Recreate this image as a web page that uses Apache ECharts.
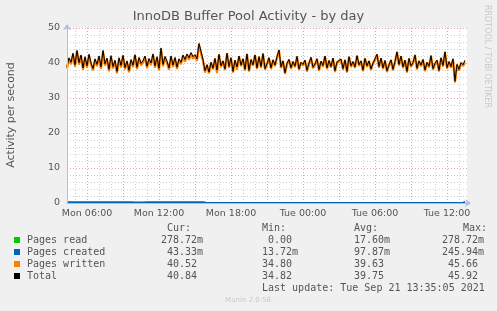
<!DOCTYPE html>
<html><head><meta charset="utf-8">
<script src="https://cdn.jsdelivr.net/npm/echarts@6/dist/echarts.min.js"></script>
<style>html,body{margin:0;padding:0;background:#f0f0f0;}#c{width:497px;height:311px;}</style>
</head><body><div id="c"></div>
<script>
// ---- data (10-minute samples starting Mon 04:20) ----
const startMinutes = 4 * 60 + 20;
const stepMinutes = 10;
const totalValues = [
39.0,41.5,40.2,42.8,39.5,43.6,40.1,42.3,38.6,41.8,39.2,42.5,40.0,38.4,41.2,39.6,42.0,38.9,43.6,39.8,
41.4,38.2,42.1,39.0,40.8,37.6,41.5,39.3,42.2,38.7,40.6,37.9,41.0,39.4,42.4,38.8,41.6,39.9,40.6,42.0,
39.1,41.3,40.0,42.6,39.2,41.8,38.5,44.3,39.6,41.9,
40.5,38.6,42.0,39.4,41.6,38.8,41.2,40.2,42.3,41.0,42.6,41.5,43.0,41.8,42.4,41.2,45.6,45.9,
41.0,37.8,39.5,37.4,40.2,38.5,41.3,38.0,42.5,39.2,40.6,38.3,42.8,39.0,41.5,37.6,40.8,38.9,42.0,39.4,
41.2,38.2,42.6,37.9,41.0,39.5,42.3,38.6,41.8,39.0,42.7,38.4,
39.8,41.5,38.6,40.9,39.4,41.8,43.7,38.9,40.6,37.2,39.9,41.0,38.7,40.4,39.1,41.9,38.3,40.2,39.6,40.8,
37.9,40.0,41.6,38.8,39.7,41.2,38.1,40.5,39.3,42.0,38.6,40.7,39.0,41.4,37.8,40.3,39.8,41.1,38.4,40.9,
37.6,41.8,39.2,40.4,38.9,42.1,39.5,40.6,38.0,41.3,
39.2,40.6,38.3,40.0,41.2,42.5,39.0,41.4,38.6,40.7,37.8,39.5,40.9,38.2,40.4,43.2,39.6,42.0,38.9,40.8,
37.6,41.3,39.2,40.1,42.3,38.5,40.6,39.4,41.0,38.0,40.2,39.1,42.1,38.4,39.9,40.8,37.9,41.5,39.3,43.2,
38.7,40.4,39.0,41.2,34.8,39.6,38.2,40.1,39.5,40.8
];
// pages created, one value per hour starting Mon 04:00
const createdHourly = [0.22,0.24,0.21,0.23,0.25,0.22,0.20,0.24,0.23,0.21,0.25,0.22,
0.02,0.02,0.02,0.01,0.02,0.02,0.01,0.02,0.02,0.02,0.02,0.01,0.02,0.02,0.02,0.02,0.02,0.02,0.02,0.02,0.04,0.04];
// pages read: non-zero samples only [sampleIndex, value]
const readSpikes = [[75,0.5],[85,0.5],[199,0.45]];

const yTicks = [0,10,20,30,40,50];
const legendRows = [
  {name:'Pages read',    color:'#00cc00', cur:'278.72m', min:'  0.00 ', avg:' 17.60m', max:'278.72m'},
  {name:'Pages created', color:'#0066b3', cur:' 43.33m', min:' 13.72m', avg:' 97.87m', max:'245.94m'},
  {name:'Pages written', color:'#ff8000', cur:' 40.52 ', min:' 34.80 ', avg:' 39.63 ', max:' 45.66 '},
  {name:'Total',         color:'#000000', cur:' 40.84 ', min:' 34.82 ', avg:' 39.75 ', max:' 45.92 '}
];

// ---- build ----
const days = ['Mon','Tue'];
const pad = n => (n<10?'0':'')+n;
const nCat = totalValues.length + 1;
const categories = [], minutesOf = [];
for (let i=0;i<nCat;i++){
  const m = startMinutes + i*stepMinutes;
  minutesOf.push(m);
  const d = Math.floor(m/1440), r = m%1440;
  categories.push(days[d]+' '+pad(Math.floor(r/60))+':'+pad(r%60));
}
const readValues = totalValues.map(()=>0);
readSpikes.forEach(([i,v])=>readValues[i]=v);
const createdValues = totalValues.map((_,i)=>createdHourly[Math.floor(minutesOf[i]/60)-4]);
const writtenValues = totalValues.map((t,i)=>+(t-createdValues[i]-readValues[i]).toFixed(3));
const pad1 = a => a.concat([null]);

const chart = echarts.init(document.getElementById('c'), null, {renderer:'canvas'});
const font = 'DejaVu Sans';
const mono = 'DejaVu Sans Mono';
const grid = {left:67, right:30, top:28, bottom:108, backgroundColor:'#ffffff', show:true, borderWidth:0};
const isHour = i => minutesOf[i]%60===0;
const is3h = i => minutesOf[i]%180===0;
const is6h = i => minutesOf[i]%360===0;
const baseX = {type:'category', data:categories, boundaryGap:false, axisTick:{show:false}};
const axisColor = '#b4bbe6';

const graphics = [
  {type:'text', left:'center', top:10, style:{text:'InnoDB Buffer Pool Activity - by day', font:'13px "'+font+'"', fill:'#555'}},
  {type:'text', x:11, y:115, rotation:Math.PI/2, style:{text:'Activity per second', font:'11px "'+font+'"', fill:'#555', textAlign:'center', textVerticalAlign:'middle'}},
  {type:'text', x:487, y:5, rotation:-Math.PI/2, style:{text:'RRDTOOL / TOBI OETIKER', font:'8px "'+font+'"', fill:'#c8c8c8', textAlign:'left', textVerticalAlign:'middle'}},
  {type:'text', x:167, y:228, style:{text:'Cur:', font:'10px "'+mono+'"', fill:'#555', textVerticalAlign:'middle'}},
  {type:'text', x:262, y:228, style:{text:'Min:', font:'10px "'+mono+'"', fill:'#555', textVerticalAlign:'middle'}},
  {type:'text', x:354, y:228, style:{text:'Avg:', font:'10px "'+mono+'"', fill:'#555', textVerticalAlign:'middle'}},
  {type:'text', x:463, y:228, style:{text:'Max:', font:'10px "'+mono+'"', fill:'#555', textVerticalAlign:'middle'}},
  {type:'text', x:262, y:288, style:{text:'Last update: Tue Sep 21 13:35:05 2021', font:'10px "'+mono+'"', fill:'#555', textVerticalAlign:'middle'}},
  {type:'text', x:248, y:300, style:{text:'Munin 2.0.56', font:'7px "'+font+'"', fill:'#c8c8c8', textAlign:'center', textVerticalAlign:'middle'}}
];
legendRows.forEach((r,k)=>{
  const y = 240 + k*12;
  graphics.push({type:'rect', shape:{x:14, y:y-3, width:6, height:6}, style:{fill:r.color}});
  graphics.push({type:'text', x:27, y:y, style:{text:r.name, font:'10px "'+mono+'"', fill:'#555', textVerticalAlign:'middle'}});
  [[161,r.cur],[256,r.min],[348,r.avg],[442,r.max]].forEach(([x,t])=>{
    graphics.push({type:'text', x:x, y:y, style:{text:t, font:'10px "'+mono+'"', fill:'#555', textVerticalAlign:'middle'}});
  });
});

chart.setOption({
  animation:false,
  backgroundColor:'#f0f0f0',
  grid: grid,
  xAxis:[
    Object.assign({}, baseX, {z:10, axisLine:{show:true, symbol:['none','arrow'], symbolSize:[6,6], symbolOffset:[0,4], lineStyle:{color:axisColor, width:1}},
      splitLine:{show:false},
      axisLabel:{interval:(i)=>is6h(i), margin:6, fontFamily:font, fontSize:9.5, color:'#555'}}),
    Object.assign({}, baseX, {z:0, axisLine:{show:false}, axisLabel:{show:false},
      splitLine:{show:true, interval:(i)=>isHour(i) && !is3h(i), lineStyle:{color:'#d0d0d0', type:[1,2], width:1}}}),
    Object.assign({}, baseX, {z:1, axisLine:{show:false}, axisLabel:{show:false},
      splitLine:{show:true, interval:(i)=>is3h(i), lineStyle:{color:'#f0a0a0', type:[1,2], width:1}}})
  ],
  yAxis:[
    {type:'value', min:0, max:50, interval:10, z:10,
      axisLine:{show:true, symbol:['none','arrow'], symbolSize:[6,6], symbolOffset:[0,4], lineStyle:{color:axisColor}},
      axisTick:{show:false}, splitLine:{show:false},
      axisLabel:{margin:7, fontFamily:font, fontSize:9.5, color:'#555', formatter:v=>yTicks.includes(v)?String(v):''}},
    {type:'value', min:0, max:50, interval:10, z:0, axisLine:{show:false}, axisLabel:{show:false}, axisTick:{show:false},
      splitLine:{show:true, lineStyle:{color:'#f0a0a0', type:[1,2]}},
      minorTick:{show:false, splitNumber:5},
      minorSplitLine:{show:true, lineStyle:{color:'#d0d0d0', type:[1,2]}}}
  ],
  series:[
    {name:'Pages read', type:'line', data:pad1(readValues), showSymbol:false, lineStyle:{color:'#00cc00', width:2}, z:2},
    {name:'Pages created', type:'line', data:pad1(createdValues), showSymbol:false, lineStyle:{color:'#0066b3', width:1.8}, z:3},
    {name:'Pages written', type:'line', data:pad1(writtenValues), showSymbol:false,
      lineStyle:{color:'#ff8000', width:2, shadowColor:'#ff8000', shadowBlur:0, shadowOffsetY:1.2}, z:4},
    {name:'Total', type:'line', data:pad1(totalValues), showSymbol:false, lineStyle:{color:'#000000', width:1}, z:5}
  ],
  graphic: graphics
});
</script></body></html>
